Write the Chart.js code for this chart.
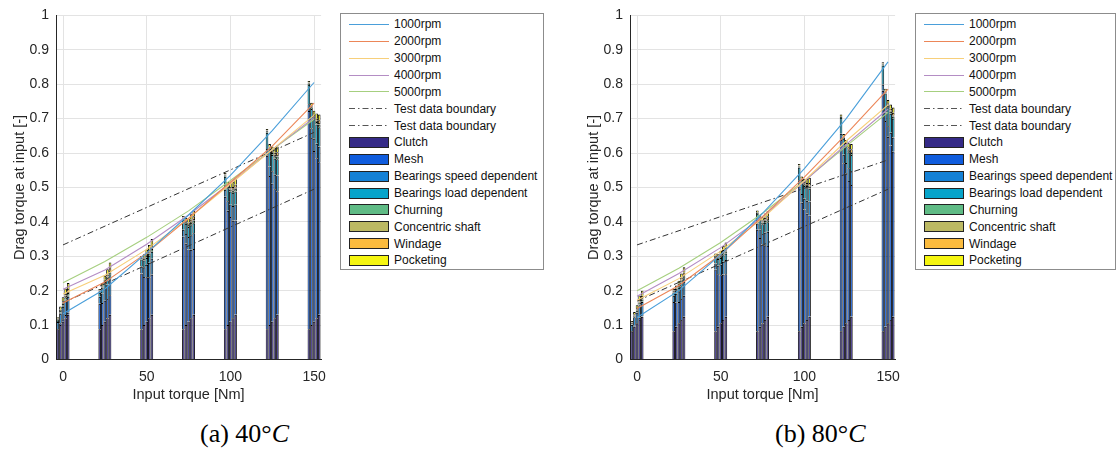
<!DOCTYPE html>
<html>
<head>
<meta charset="utf-8">
<script src="https://cdn.jsdelivr.net/npm/chart.js@4.4.1/dist/chart.umd.min.js"></script>
<style>
  body { margin: 0; background: #fff; width: 1116px; height: 456px; position: relative; overflow: hidden;
         font-family: "Liberation Sans", Arial, sans-serif; }
  canvas { position: absolute; top: 0; }
  .legend { position: absolute; top: 13px; height: 257px; box-sizing: border-box; border: 1px solid #8c8c8c;
            background: #fff; padding-top: 2px; font-size: 12px; color: #111; }
  .row { height: 16.86px; display: flex; align-items: center; white-space: nowrap; }
  .sample { width: 40px; height: 11px; margin-left: 8px; margin-right: 5px; flex: none; }
  .swatch { box-sizing: border-box; border: 1px solid #222; }
  .caption { position: absolute; top: 419px; font-family: "Liberation Serif", serif; font-size: 26px; color: #000; }
</style>
</head>
<body>
<canvas id="chartA" width="335" height="410" style="left:0px"></canvas>
<canvas id="chartB" width="335" height="410" style="left:574px"></canvas>
<div class="legend" id="legendA" style="left:340px;width:204px"></div>
<div class="legend" id="legendB" style="left:915px;width:201px"></div>
<div class="caption" style="left:200px">(a) 40°<i>C</i></div>
<div class="caption" style="left:775px">(b) 80°<i>C</i></div>

<script>
const torque = [0, 25, 50, 75, 100, 125, 150];
const boundaryTorque = [0, 150];
const rpmNames = ['1000rpm', '2000rpm', '3000rpm', '4000rpm', '5000rpm'];
const partNames = ['Clutch', 'Mesh', 'Bearings speed dependent', 'Bearings load dependent',
                   'Churning', 'Concentric shaft', 'Windage', 'Pocketing'];

// (a) 40°C  -- per rpm values, mesh per rpm x torque, bearing load per torque
const clutchA    = [0.088, 0.100, 0.110, 0.120, 0.130];
const meshA = [
  [0.001, 0.074, 0.162, 0.269, 0.385, 0.504, 0.634],
  [0.005, 0.064, 0.140, 0.237, 0.332, 0.433, 0.544],
  [0.007, 0.061, 0.129, 0.210, 0.304, 0.401, 0.496],
  [0.009, 0.056, 0.119, 0.199, 0.284, 0.375, 0.465],
  [0.006, 0.057, 0.117, 0.191, 0.274, 0.359, 0.443]
];
const bearSpeedA = [0.020, 0.028, 0.036, 0.042, 0.046];
const bearLoadA  = [0.003, 0.012, 0.020, 0.029, 0.038, 0.047, 0.056];
const churnA     = [0.004, 0.005, 0.006, 0.007, 0.008];
const shaftA     = [0.002, 0.003, 0.003, 0.004, 0.004];
const windageA   = [0.001, 0.002, 0.004, 0.006, 0.008];
const pocketA    = [0.004, 0.008, 0.012, 0.015, 0.017];
const modelA = [
  [0.133, 0.205, 0.310, 0.420, 0.535, 0.665, 0.805],
  [0.164, 0.225, 0.310, 0.410, 0.515, 0.620, 0.745],
  [0.190, 0.245, 0.320, 0.410, 0.510, 0.610, 0.710],
  [0.204, 0.260, 0.335, 0.420, 0.513, 0.610, 0.703],
  [0.223, 0.285, 0.355, 0.432, 0.520, 0.610, 0.698]
];
const upperA = [0.333, 0.660];
const lowerA = [0.165, 0.495];

// (b) 80°C
const clutchB    = [0.082, 0.095, 0.105, 0.115, 0.124];
const meshB = [
  [0.001, 0.085, 0.179, 0.295, 0.421, 0.556, 0.699],
  [0.003, 0.071, 0.153, 0.258, 0.361, 0.475, 0.598],
  [0.000, 0.062, 0.140, 0.229, 0.331, 0.435, 0.542],
  [0.006, 0.061, 0.132, 0.217, 0.309, 0.404, 0.507],
  [0.002, 0.061, 0.124, 0.206, 0.294, 0.383, 0.480]
];
const bearSpeedB = [0.018, 0.025, 0.031, 0.037, 0.041];
const bearLoadB  = [0.001, 0.010, 0.019, 0.028, 0.037, 0.046, 0.055];
const churnB     = [0.003, 0.004, 0.005, 0.006, 0.006];
const shaftB     = [0.002, 0.002, 0.003, 0.003, 0.003];
const windageB   = [0.001, 0.002, 0.004, 0.006, 0.008];
const pocketB    = [0.004, 0.006, 0.009, 0.012, 0.015];
const modelB = [
  [0.122, 0.200, 0.305, 0.425, 0.555, 0.700, 0.865],
  [0.148, 0.215, 0.305, 0.415, 0.530, 0.655, 0.786],
  [0.172, 0.235, 0.315, 0.410, 0.520, 0.635, 0.740],
  [0.184, 0.250, 0.325, 0.415, 0.518, 0.625, 0.728],
  [0.200, 0.265, 0.340, 0.425, 0.520, 0.620, 0.718]
];
const upperB = [0.333, 0.580];
const lowerB = [0.170, 0.495];

const lineColors = ['#4a9fda', '#ec8658', '#f7cf7a', '#b48dc4', '#a6cf7f'];
const partColors = ['#352a87', '#0f5cdd', '#1481d6', '#06a4ca', '#5fbb85', '#bcb963', '#fbbb3e', '#f5f510'];
const textColor = '#262626';

Chart.defaults.font.family = '"Liberation Sans", Arial, sans-serif';

function pts(xs, ys) {
  return xs.map((x, i) => ({ x: x, y: ys[i] }));
}

function buildChart(id, d) {
  const datasets = [];
  rpmNames.forEach((name, r) => {
    datasets.push({
      type: 'line', label: name, data: pts(torque, d.model[r]),
      borderColor: lineColors[r], borderWidth: 1.1, pointRadius: 0, tension: 0,
      stack: 'line' + r, order: 0
    });
  });
  [d.upper, d.lower].forEach((b, k) => {
    datasets.push({
      type: 'line', label: 'Test data boundary', data: pts(boundaryTorque, b),
      borderColor: '#333', borderWidth: 1, borderDash: [6, 3, 1.5, 3], pointRadius: 0,
      stack: 'bound' + k, order: 0
    });
  });
  rpmNames.forEach((name, r) => {
    const parts = [
      torque.map(() => d.clutch[r]),
      d.mesh[r],
      torque.map(() => d.bearSpeed[r]),
      d.bearLoad,
      torque.map(() => d.churn[r]),
      torque.map(() => d.shaft[r]),
      torque.map(() => d.windage[r]),
      torque.map(() => d.pocket[r])
    ];
    parts.forEach((vals, p) => {
      datasets.push({
        type: 'bar', label: partNames[p], data: pts(torque, vals), stack: 'rpm' + r,
        backgroundColor: partColors[p], borderColor: '#000', borderWidth: 0.9,
        categoryPercentage: 0.31, barPercentage: 1.0, order: 1
      });
    });
  });

  return new Chart(document.getElementById(id), {
    data: { datasets: datasets },
    options: {
      responsive: false,
      animation: false,
      layout: { padding: { top: 13, right: 10, left: 0, bottom: 0 } },
      plugins: { legend: { display: false }, tooltip: { enabled: false } },
      scales: {
        x: {
          type: 'linear', min: -4.2, max: 154.2, offset: false,
          afterFit: s => { s.height = 50.5; },
          ticks: { stepSize: 50, includeBounds: false, autoSkip: false, color: textColor, font: { size: 14 }, padding: 9 },
          grid: { color: '#e3e3e3', drawTicks: false, offset: false },
          border: { color: textColor, width: 1 },
          title: { display: true, text: 'Input torque [Nm]', color: textColor, font: { size: 14.5 },
                   padding: { top: 0, bottom: 6.5 } }
        },
        y: {
          type: 'linear', min: 0, max: 1, stacked: true,
          afterFit: s => { s.width = 56; },
          ticks: { stepSize: 0.1, color: textColor, font: { size: 14 }, padding: 7,
                   callback: v => String(+v.toFixed(1)) },
          grid: { color: '#e3e3e3', drawTicks: false },
          border: { color: textColor, width: 1 },
          title: { display: true, text: 'Drag torque at input [-]', color: textColor, font: { size: 14.5 },
                   padding: { top: 11, bottom: 0 } }
        }
      }
    }
  });
}

function buildLegend(id) {
  const box = document.getElementById(id);
  let html = '';
  rpmNames.forEach((name, r) => {
    html += '<div class="row"><svg class="sample" viewBox="0 0 40 11"><line x1="0" y1="5.5" x2="40" y2="5.5" stroke="' +
      lineColors[r] + '" stroke-width="1.1"/></svg><span>' + name + '</span></div>';
  });
  for (let k = 0; k < 2; k++) {
    html += '<div class="row"><svg class="sample" viewBox="0 0 40 11"><line x1="0" y1="5.5" x2="40" y2="5.5" stroke="#555" stroke-width="1" stroke-dasharray="6 3 1.5 3"/></svg><span>Test data boundary</span></div>';
  }
  partNames.forEach((name, p) => {
    html += '<div class="row"><div class="sample swatch" style="background:' + partColors[p] + '"></div><span>' + name + '</span></div>';
  });
  box.innerHTML = html;
}

buildChart('chartA', { clutch: clutchA, mesh: meshA, bearSpeed: bearSpeedA, bearLoad: bearLoadA, churn: churnA,
                       shaft: shaftA, windage: windageA, pocket: pocketA, model: modelA, upper: upperA, lower: lowerA });
buildChart('chartB', { clutch: clutchB, mesh: meshB, bearSpeed: bearSpeedB, bearLoad: bearLoadB, churn: churnB,
                       shaft: shaftB, windage: windageB, pocket: pocketB, model: modelB, upper: upperB, lower: lowerB });
buildLegend('legendA');
buildLegend('legendB');
</script>
</body>
</html>
